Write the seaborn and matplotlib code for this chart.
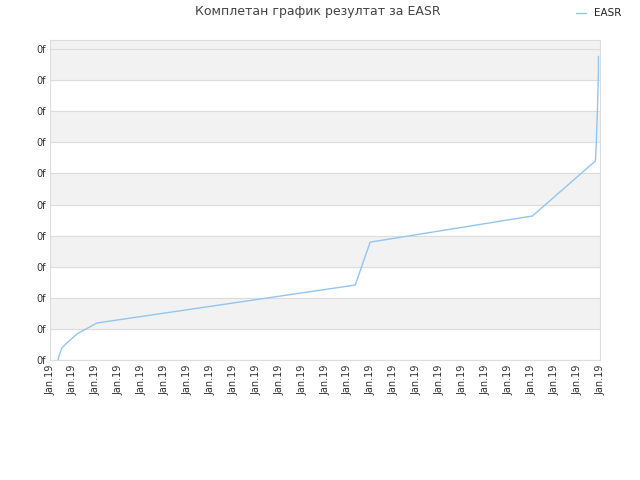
import numpy as np
import pandas as pd
import matplotlib
matplotlib.use("Agg")
import matplotlib.pyplot as plt
import seaborn as sns

# data (x in tick steps, y in tick steps)
x_vals = [0.35, 0.39, 0.52, 0.74, 1.18, 2.05, 13.32, 13.97, 21.05, 23.80, 23.84, 23.89, 23.93, 23.93]
y_vals = [0.0, 0.13, 0.39, 0.55, 0.84, 1.19, 2.41, 3.79, 4.63, 6.40, 7.01, 8.10, 9.23, 9.77]
x_ticks = list(range(25))
x_labels = ["Jan.19"] * 25
y_ticks = list(range(11))
y_labels = ["0f"] * 11

df = pd.DataFrame({"x": x_vals, "y": y_vals, "series": "EASR"})

sns.set_style("white")
plt.rcParams['font.family'] = ['DejaVu Sans']
fig = plt.figure(figsize=(6.4, 4.8), dpi=100)
ax = fig.add_axes([50/640, 120/480, 550/640, 320/480])

# alternating bands
for i in range(10):
    if i % 2 == 1:
        ax.axhspan(i, i + 1, color="#f2f2f2", zorder=0)
ax.axhspan(10, 10.3, color="#f2f2f2", zorder=0)
for t in y_ticks:
    ax.axhline(t, color="#dddddd", linewidth=0.8, zorder=1)

sns.lineplot(data=df, x="x", y="y", hue="series", palette=["#92c5f0"],
             linewidth=1, ax=ax, sort=False, estimator=None, legend=False, zorder=3)

ax.set_xlim(0, 24)
ax.set_ylim(0, 10.29)
ax.set_xticks(x_ticks)
ax.set_xticklabels(x_labels, rotation=90, fontsize=7, color="#333333")
ax.set_yticks(y_ticks)
ax.set_yticklabels(y_labels, fontsize=7, color="#333333")
ax.set_xlabel("")
ax.set_ylabel("")
for s in ax.spines.values():
    s.set_color("#dddddd")
ax.tick_params(length=0, pad=3)

fig.text(318/640, 1 - 12/480, "Комплетан график резултат за EASR", ha="center", va="center",
         fontsize=9, color="#444444")
fig.lines.append(plt.Line2D([576/640, 586/640], [1 - 13/480] * 2, color="#92c5f0",
                            linewidth=1, transform=fig.transFigure))
fig.text(594/640, 1 - 13/480, "EASR", ha="left", va="center", fontsize=7.5, color="#222222")

fig.savefig("out.png", dpi=100)
